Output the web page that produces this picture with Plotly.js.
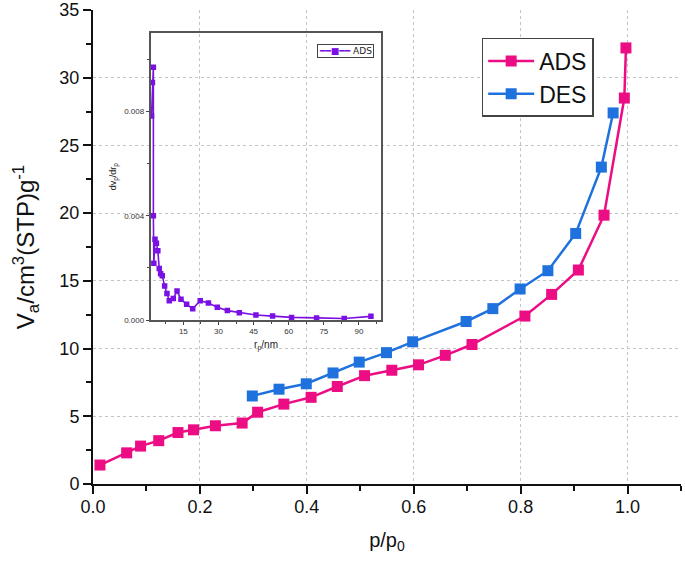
<!DOCTYPE html>
<html>
<head>
<meta charset="utf-8">
<script src="https://cdn.plot.ly/plotly-3.0.1.min.js"></script>
<style>html,body{margin:0;padding:0;background:#fff;}#chart{width:685px;height:567px;}</style>
</head>
<body>
<div id="chart"></div>
<script>
// Main isotherm (adsorption branch)
const adsX = [0.013, 0.063, 0.089, 0.123, 0.159, 0.188, 0.229, 0.279, 0.308, 0.357, 0.408, 0.457, 0.508, 0.559, 0.609, 0.659, 0.709, 0.808, 0.858, 0.908, 0.956, 0.994, 0.997];
const adsY = [1.4, 2.3, 2.8, 3.2, 3.8, 4.0, 4.3, 4.5, 5.3, 5.9, 6.4, 7.2, 8.0, 8.4, 8.8, 9.5, 10.3, 12.4, 14.0, 15.8, 19.85, 28.5, 32.2];
// Desorption branch
const desX = [0.298, 0.348, 0.399, 0.449, 0.498, 0.549, 0.598, 0.698, 0.748, 0.799, 0.851, 0.903, 0.951, 0.973];
const desY = [6.5, 7.0, 7.4, 8.2, 9.0, 9.7, 10.5, 12.0, 12.95, 14.4, 15.75, 18.5, 23.4, 27.4];
// Inset: pore size distribution
const rp = [1.4, 1.8, 2.2, 2.2, 2.4, 2.9, 3.5, 4.1, 4.7, 5.3, 6.0, 7.0, 8.0, 9.0, 10.7, 12.3, 14.0, 16.4, 19.0, 22.2, 25.7, 29.5, 33.8, 38.9, 46.0, 53.1, 61.2, 71.9, 83.7, 95.1];
const dv = [0.00783, 0.00911, 0.0097, 0.0040, 0.00218, 0.0031, 0.00294, 0.00266, 0.00198, 0.00177, 0.0017, 0.0013, 0.00102, 0.00074, 0.00082, 0.00111, 0.0008, 0.0006, 0.00043, 0.00074, 0.00065, 0.00049, 0.00036, 0.00028, 0.00019, 0.00015, 0.0001, 0.00008, 0.00006, 0.00014];
const xTicks = [0.0, 0.2, 0.4, 0.6, 0.8, 1.0];
const xTickText = ['0.0', '0.2', '0.4', '0.6', '0.8', '1.0'];
const yTicks = [0, 5, 10, 15, 20, 25, 30, 35];
const x2Ticks = [15, 30, 45, 60, 75, 90];
const y2Ticks = [0, 0.004, 0.008];
const y2TickText = ['0.000', '0.004', '0.008'];
const insetName = 'ADS';

const pink = '#ec0c84';
const blue = '#1f72dd';
const purple = '#7a10e4';
const FONT = 'Liberation Sans, Arial, sans-serif';

const traces = [
  {x: adsX, y: adsY, name: 'ADS', type: 'scatter', mode: 'lines+markers',
   line: {color: pink, width: 2.5}, marker: {symbol: 'square', size: 11, color: pink}, xaxis: 'x', yaxis: 'y'},
  {x: desX, y: desY, name: 'DES', type: 'scatter', mode: 'lines+markers',
   line: {color: blue, width: 2.5}, marker: {symbol: 'square', size: 11, color: blue}, xaxis: 'x', yaxis: 'y'},
  {x: rp, y: dv, name: insetName, type: 'scatter', mode: 'lines+markers', showlegend: false,
   line: {color: purple, width: 1.6}, marker: {symbol: 'square', size: 5.5, color: purple},
   xaxis: 'x2', yaxis: 'y2'}
];

const layout = {
  width: 685, height: 567,
  margin: {l: 93, r: 3.5, t: 10, b: 83},
  paper_bgcolor: '#ffffff', plot_bgcolor: 'rgba(0,0,0,0)',
  font: {family: FONT, color: '#111'},
  showlegend: true,
  xaxis: {
    domain: [0, 1], range: [0, 1.1], anchor: 'y',
    tickvals: xTicks, ticktext: xTickText, tickfont: {size: 18, color: '#111'},
    ticks: 'outside', ticklen: 8, tickwidth: 2, tickcolor: '#111', ticklabelstandoff: -3,
    minor: {dtick: 0.1, tick0: 0, ticks: 'outside', ticklen: 5, tickwidth: 1.5, tickcolor: '#111', showgrid: false},
    showline: true, linecolor: '#111', linewidth: 2, zeroline: false,
    showgrid: true, gridcolor: '#c4c4c4', griddash: 'dot', gridwidth: 1,
    title: {text: 'p/p<sub>0</sub>', font: {size: 20, color: '#111'}, standoff: 17}
  },
  yaxis: {
    domain: [0, 1], range: [0, 35], anchor: 'x',
    tickvals: yTicks, tickfont: {size: 18, color: '#111'},
    ticks: 'outside', ticklen: 8, tickwidth: 2, tickcolor: '#111',
    minor: {dtick: 2.5, tick0: 0, ticks: 'outside', ticklen: 5, tickwidth: 1.5, tickcolor: '#111', showgrid: false},
    showline: true, linecolor: '#111', linewidth: 2, zeroline: false,
    showgrid: true, gridcolor: '#c4c4c4', griddash: 'dot', gridwidth: 1,
    title: {text: 'V<sub>a</sub>/cm<sup>3</sup>(STP)g<sup>-1</sup>', font: {size: 24, color: '#111'}, standoff: 18}
  },
  xaxis2: {
    domain: [0.0979, 0.4906], range: [1, 99.6], anchor: 'y2',
    tickvals: x2Ticks, tickfont: {size: 8, color: '#333'},
    ticks: 'outside', ticklen: 3, tickwidth: 1, tickcolor: '#444',
    minor: {dtick: 7.5, tick0: 0, ticks: 'outside', ticklen: 2, tickwidth: 1, tickcolor: '#444', showgrid: false},
    showline: true, mirror: true, linecolor: '#555', linewidth: 1.5, zeroline: false, showgrid: false,
    title: {text: 'r<sub>p</sub>/nm', font: {size: 10, color: '#222'}, standoff: 6}
  },
  yaxis2: {
    domain: [0.346, 0.9508], range: [0, 0.011], anchor: 'x2',
    tickvals: y2Ticks, ticktext: y2TickText, tickfont: {size: 8, color: '#333'},
    ticks: 'outside', ticklen: 3, tickwidth: 1, tickcolor: '#444',
    minor: {dtick: 0.002, tick0: 0, ticks: 'outside', ticklen: 2, tickwidth: 1, tickcolor: '#444', showgrid: false},
    showline: true, mirror: true, linecolor: '#555', linewidth: 1.5, zeroline: false, showgrid: false,
    title: {text: 'dv<sub>p</sub>/dr<sub>p</sub>', font: {size: 9, color: '#222'}, standoff: 6}
  },
  legend: {
    x: 0.661, y: 0.941, xanchor: 'left', yanchor: 'top',
    bgcolor: '#ffffff', bordercolor: '#444', borderwidth: 1.5,
    font: {size: 23, color: '#111'}, tracegroupgap: 0, itemwidth: 46
  },
  annotations: [{
    xref: 'paper', yref: 'paper', x: 0.381, y: 0.929, xanchor: 'left', yanchor: 'top',
    showarrow: false, align: 'left',
    text: '<span style="color:' + purple + '">━━■━━</span> ' + insetName,
    font: {size: 9, color: '#222', family: 'DejaVu Sans, ' + FONT},
    bgcolor: '#ffffff', bordercolor: '#444', borderwidth: 1, borderpad: 1
  }]
};

Plotly.newPlot('chart', traces, layout, {displayModeBar: false, responsive: false});
</script>
</body>
</html>
